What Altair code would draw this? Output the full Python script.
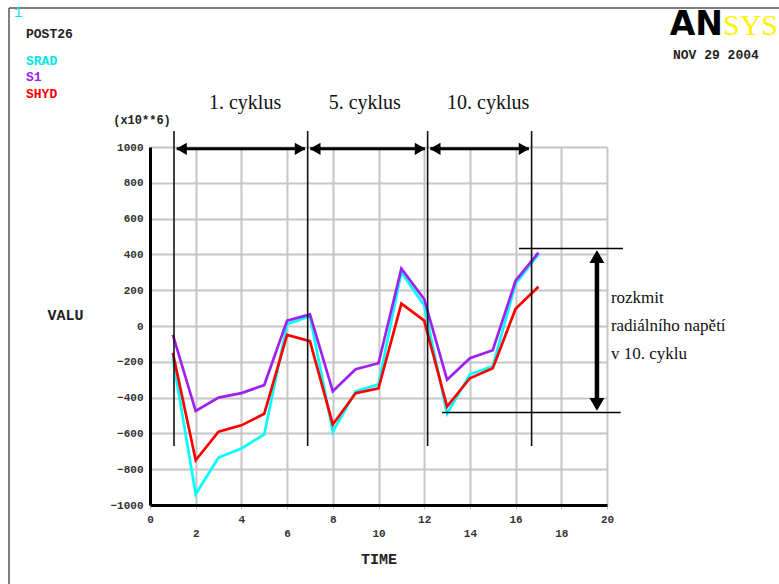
import altair as alt
import pandas as pd

# ---- data: POST26 time history of stresses (x10**6) ----
time = list(range(1, 18))
srad = [-180, -940, -735, -685, -605, 10, 55, -590, -365, -326, 300, 115, -490, -270, -225, 236, 400]
s1 = [-50, -475, -400, -375, -330, 30, 65, -365, -242, -208, 320, 150, -300, -180, -135, 253, 410]
shyd = [-150, -750, -590, -555, -490, -50, -85, -550, -376, -348, 125, 30, -450, -292, -236, 96, 219]

series_names = ["SRAD", "S1", "SHYD"]
series_values = [srad, s1, shyd]
series_colors = ["#00FFFF", "#A020F0", "#FF0000"]

# cycle boundaries (time) and labels
cycle_bounds = [1.05, 6.9, 12.15, 16.7]
cycle_labels = ["1. cyklus", "5. cyklus", "10. cyklus"]
cycle_label_t = [4.16, 9.4, 14.8]
cycle_line_low = -670
cycle_line_high = 1090
cycle_arrow_y = 990
cycle_label_y = 1246

# stress range in the 10th cycle
range_top = 433
range_bottom = -483
range_top_span = [16.15, 20.7]
range_bottom_span = [12.78, 20.6]
range_arrow_t = 19.56
range_text = ["rozkmit", "radiálního napětí", "v 10. cyklu"]
range_text_t = 20.17
range_text_y = 157

x_ticks = list(range(0, 21, 2))
y_ticks = list(range(-1000, 1001, 200))

MONO = "Liberation Mono"
SERIF = "Liberation Serif"

x_scale = alt.Scale(domain=[0, 20], nice=False, zero=False)
y_scale = alt.Scale(domain=[-1000, 1000], nice=False, zero=False)

x_axis = alt.Axis(
    values=x_ticks, format="d", grid=True, gridColor="#c6c6c6", gridWidth=2,
    domainColor="black", domainWidth=3,
    tickColor="#c0c0c0", tickSize=4, tickWidth=1,
    labelFont=MONO, labelFontWeight="bold", labelFontSize=11, labelColor="#333333",
    labelAngle=0, labelOverlap=False, labelFlush=False,
    labelPadding={"condition": {"test": "datum.value % 4 !== 0", "value": 18}, "value": 4},
    title="TIME", titleFont=MONO, titleFontWeight="bold", titleFontSize=15,
    titleColor="#222222", titlePadding=13,
)
y_axis = alt.Axis(
    values=y_ticks, format="d", grid=True, gridColor="#c6c6c6", gridWidth=2,
    domainColor="black", domainWidth=3, ticks=False,
    labelFont=MONO, labelFontWeight="bold", labelFontSize=11, labelColor="#333333",
    labelPadding=7, labelOverlap=False, labelFlush=False,
    title="VALU", titleFont=MONO, titleFontWeight="bold", titleFontSize=15,
    titleColor="#222222", titleAngle=0, titleX=-85, titleY=167,
    titleAlign="center", titleBaseline="middle",
)


# every layer shares the same scales and axis definitions
def X(field):
    return alt.X(field, type="quantitative", scale=x_scale, axis=x_axis)


def Y(field):
    return alt.Y(field, type="quantitative", scale=y_scale, axis=y_axis)


def XD(value):
    return alt.XDatum(value, type="quantitative", scale=x_scale, axis=x_axis)


def YD(value):
    return alt.YDatum(value, type="quantitative", scale=y_scale, axis=y_axis)


layers = []
for name, vals, col in zip(series_names, series_values, series_colors):
    df = pd.DataFrame({"t": time, "v": vals, "series": name})
    layers.append(
        alt.Chart(df).mark_line(color=col, strokeWidth=2.7).encode(x=X("t"), y=Y("v"))
    )

# vertical cycle boundary lines
bounds_df = pd.DataFrame({"t": cycle_bounds, "lo": cycle_line_low, "hi": cycle_line_high})
layers.append(
    alt.Chart(bounds_df).mark_rule(color="#111111", strokeWidth=1.6).encode(
        x=X("t"), y=Y("lo"), y2="hi:Q"
    )
)

# double arrows between cycle boundaries
arrow_df = pd.DataFrame({
    "a": cycle_bounds[:-1],
    "b": cycle_bounds[1:],
    "y": cycle_arrow_y,
})
arrow_df["a_in"] = arrow_df["a"] + 0.12
arrow_df["b_in"] = arrow_df["b"] - 0.12
arrow_df["a_head"] = arrow_df["a"] + 0.33
arrow_df["b_head"] = arrow_df["b"] - 0.33
layers.append(
    alt.Chart(arrow_df).mark_rule(color="black", strokeWidth=3).encode(
        x=X("a_in"), x2="b_in:Q", y=Y("y")
    )
)
layers.append(
    alt.Chart(arrow_df).mark_point(shape="triangle-left", filled=True, color="black",
                                   size=150, opacity=1).encode(x=X("a_head"), y=Y("y"))
)
layers.append(
    alt.Chart(arrow_df).mark_point(shape="triangle-right", filled=True, color="black",
                                   size=150, opacity=1).encode(x=X("b_head"), y=Y("y"))
)

# cycle labels
labels_df = pd.DataFrame({"t": cycle_label_t, "label": cycle_labels, "y": cycle_label_y})
layers.append(
    alt.Chart(labels_df).mark_text(font=SERIF, fontSize=20, color="#111111",
                                   align="center", baseline="middle").encode(
        x=X("t"), y=Y("y"), text="label:N"
    )
)

# stress range in the 10th cycle
span_df = pd.DataFrame({
    "a": [range_top_span[0], range_bottom_span[0]],
    "b": [range_top_span[1], range_bottom_span[1]],
    "y": [range_top, range_bottom],
})
layers.append(
    alt.Chart(span_df).mark_rule(color="black", strokeWidth=1.5).encode(
        x=X("a"), x2="b:Q", y=Y("y")
    )
)
one = pd.DataFrame({"k": [0]})
layers.append(
    alt.Chart(one).mark_rule(color="black", strokeWidth=4.5).encode(
        x=XD(range_arrow_t), y=YD(range_top - 40), y2=alt.Y2Datum(range_bottom + 40)
    )
)
layers.append(
    alt.Chart(one).mark_point(
        shape="triangle-up", filled=True, color="black", size=220, opacity=1).encode(
        x=XD(range_arrow_t), y=YD(range_top - 45)
    )
)
layers.append(
    alt.Chart(one).mark_point(
        shape="triangle-down", filled=True, color="black", size=220, opacity=1).encode(
        x=XD(range_arrow_t), y=YD(range_bottom + 45)
    )
)
layers.append(
    alt.Chart(one).mark_text(
        font=SERIF, fontSize=17, color="#111111", align="left", baseline="middle",
        lineHeight=28).encode(
        x=XD(range_text_t), y=YD(range_text_y), text=alt.value(range_text)
    )
)


# page furniture: frame, header texts, logo
def label(text, x, y, color="#222222", size=13, font=MONO, weight="bold", align="left",
          baseline="middle"):
    return alt.Chart(one).mark_text(
        font=font, fontSize=size, fontWeight=weight, color=color,
        align=align, baseline=baseline).encode(
        x=alt.value(x), y=alt.value(y), text=alt.value(text)
    )


layers += [
    alt.Chart(one).mark_rule(color="#555555", strokeWidth=1.5).encode(
        x=alt.value(-141), y=alt.value(-139), y2=alt.value(440)),
    alt.Chart(one).mark_rule(color="#555555", strokeWidth=1.5).encode(
        x=alt.value(-141), x2=alt.value(640), y=alt.value(-139)),
    label("1", -136, -134, color="#00E5E5", size=14, weight="normal"),
    label("POST26", -124, -113, size=13),
    label("SRAD", -124, -86, color="#00E5E5", size=13),
    label("S1", -124, -70, color="#A020F0", size=13),
    label("SHYD", -124, -53, color="#FF0000", size=13),
    label("(x10**6)", -8, -27, size=12, align="center"),
    label("NOV 29 2004", 523, -92, size=13),
    label("AN", 573, -112, color="black", size=33, font="DejaVu Sans", weight="bold",
          align="right", baseline="alphabetic"),
    label("SYS", 573, -112, color="#FFF200", size=30, font=SERIF, weight="normal",
          baseline="alphabetic"),
]

chart = alt.layer(*layers).properties(
    width=457,
    height=358,
    padding={"left": 150, "top": 147, "right": 172, "bottom": 79},
    autosize=alt.AutoSizeParams(type="none"),
    background="white",
).configure_view(stroke=None)

chart.save("out.html", embed_options={"renderer": "svg", "actions": False})
